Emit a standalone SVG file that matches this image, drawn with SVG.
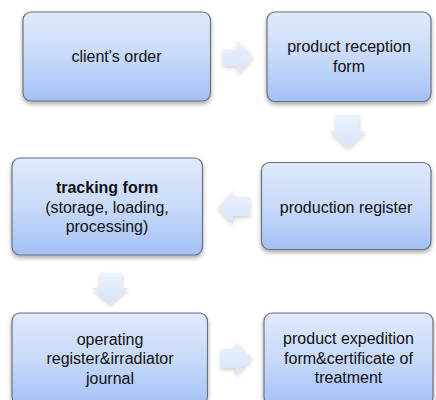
<svg xmlns="http://www.w3.org/2000/svg" width="436" height="400" viewBox="0 0 436 400">
  <defs>
    <linearGradient id="boxFill" x1="0" y1="0" x2="0" y2="1">
      <stop offset="0" stop-color="#dfe9fc"/>
      <stop offset="0.5" stop-color="#c8daf9"/>
      <stop offset="1" stop-color="#a3c0f6"/>
    </linearGradient>
    <linearGradient id="arrowFill" x1="0" y1="0" x2="0" y2="1">
      <stop offset="0" stop-color="#edf2fd"/>
      <stop offset="1" stop-color="#d6e3fa"/>
    </linearGradient>
    <filter id="boxShadow" x="-10%" y="-10%" width="125%" height="130%">
      <feDropShadow dx="0" dy="2.5" stdDeviation="2" flood-color="#000" flood-opacity="0.35"/>
    </filter>
    <filter id="arrowShadow" x="-30%" y="-30%" width="160%" height="170%">
      <feDropShadow dx="0" dy="2" stdDeviation="2" flood-color="#000" flood-opacity="0.2"/>
    </filter>
  </defs>
  <style>
    .box { fill: url(#boxFill); stroke: #6b727c; stroke-width: 1.2; filter: url(#boxShadow); }
    .arrow { fill: url(#arrowFill); stroke: none; filter: url(#arrowShadow); }
    text { font-family: "Liberation Sans", Arial, sans-serif; font-size: 16px; fill: #111; text-anchor: middle; }
    .b { font-weight: bold; }
  </style>

  <rect width="436" height="400" fill="#ffffff"/>

  <!-- connectors -->
  <g id="connectors">
    <path class="arrow" d="M223,49.5 H237.5 V40 L253,57 L237.5,74 V65.5 H223 Z"/>
    <path class="arrow" d="M336,115 H359 V131.5 H366 L348,147.5 L330,131.5 H336 Z"/>
    <path class="arrow" d="M250,197 H233 V190.5 L218,207.5 L233,224.5 V216 H250 Z"/>
    <path class="arrow" d="M100,273 H122 V288 H128.5 L110.5,304 L92.5,288 H100 Z"/>
    <path class="arrow" d="M221,349 H236 V341.5 L252,358.5 L236,375.5 V368 H221 Z"/>
  </g>

  <!-- nodes -->
  <g id="client-order">
    <rect class="box" x="23" y="12" width="187.5" height="89" rx="8"/>
    <text x="116.5" y="62">client's order</text>
  </g>

  <g id="product-reception">
    <rect class="box" x="267" y="12" width="164" height="89.5" rx="8"/>
    <text x="349" y="52">product reception</text>
    <text x="349" y="72">form</text>
  </g>

  <g id="production-register">
    <rect class="box" x="261.5" y="162.5" width="169.5" height="87" rx="8"/>
    <text x="346" y="213">production register</text>
  </g>

  <g id="tracking-form">
    <rect class="box" x="12" y="158" width="190.5" height="97" rx="8"/>
    <text class="b" x="107" y="193">tracking form</text>
    <text x="107" y="213">(storage, loading,</text>
    <text x="107" y="232">processing)</text>
  </g>

  <g id="operating-register">
    <rect class="box" x="12" y="313" width="195.5" height="92" rx="8"/>
    <text x="110" y="345">operating</text>
    <text x="110" y="364">register&amp;irradiator</text>
    <text x="110" y="383.5">journal</text>
  </g>

  <g id="product-expedition">
    <rect class="box" x="264" y="313" width="169" height="92" rx="8"/>
    <text x="348.5" y="344">product expedition</text>
    <text x="348.5" y="363.5">form&amp;certificate of</text>
    <text x="348.5" y="383">treatment</text>
  </g>
</svg>
